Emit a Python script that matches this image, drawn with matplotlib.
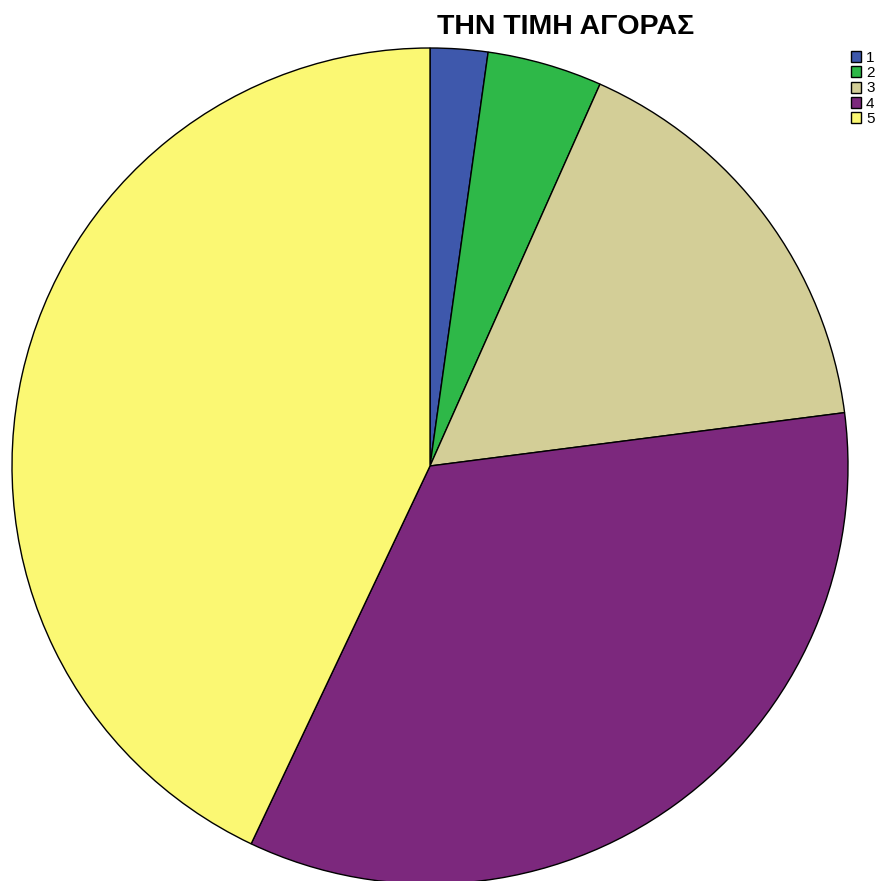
import matplotlib
matplotlib.use("Agg")
import matplotlib.pyplot as plt

plt.rcParams['font.family'] = ['Liberation Sans', 'DejaVu Sans']

title = "ΤΗΝ ΤΙΜΗ ΑΓΟΡΑΣ"
categories = ["1", "2", "3", "4", "5"]
counts = [3, 6, 22, 46, 58]
colors = ["#3E58AC", "#2EB848", "#D3CE97", "#7C287D", "#FBF873"]

W, H = 891, 881
fig = plt.figure(figsize=(W / 100, H / 100), dpi=100)
ax = fig.add_axes([0, 0, 1, 1])
ax.set_xlim(0, W)
ax.set_ylim(0, H)
ax.set_aspect("equal")
ax.axis("off")

wedges, _ = ax.pie(counts, colors=colors, startangle=90, counterclock=False,
                   center=(430, H - 466), radius=418,
                   wedgeprops=dict(edgecolor="black", linewidth=1.0))
ax.set_xlim(0, W)
ax.set_ylim(0, H)

fig.text(566 / W, 1 - 27 / H, title, ha="center", va="center",
         fontsize=20.5, fontweight="bold")

leg = ax.legend(wedges, categories, loc="upper left",
                bbox_to_anchor=(848 / W, 1 - 48 / H), frameon=False,
                fontsize=11, handlelength=0.68, handleheight=0.72,
                handletextpad=0.3, labelspacing=0.08, borderpad=0.2,
                borderaxespad=0)

fig.savefig("out.png", dpi=100, facecolor="white")
